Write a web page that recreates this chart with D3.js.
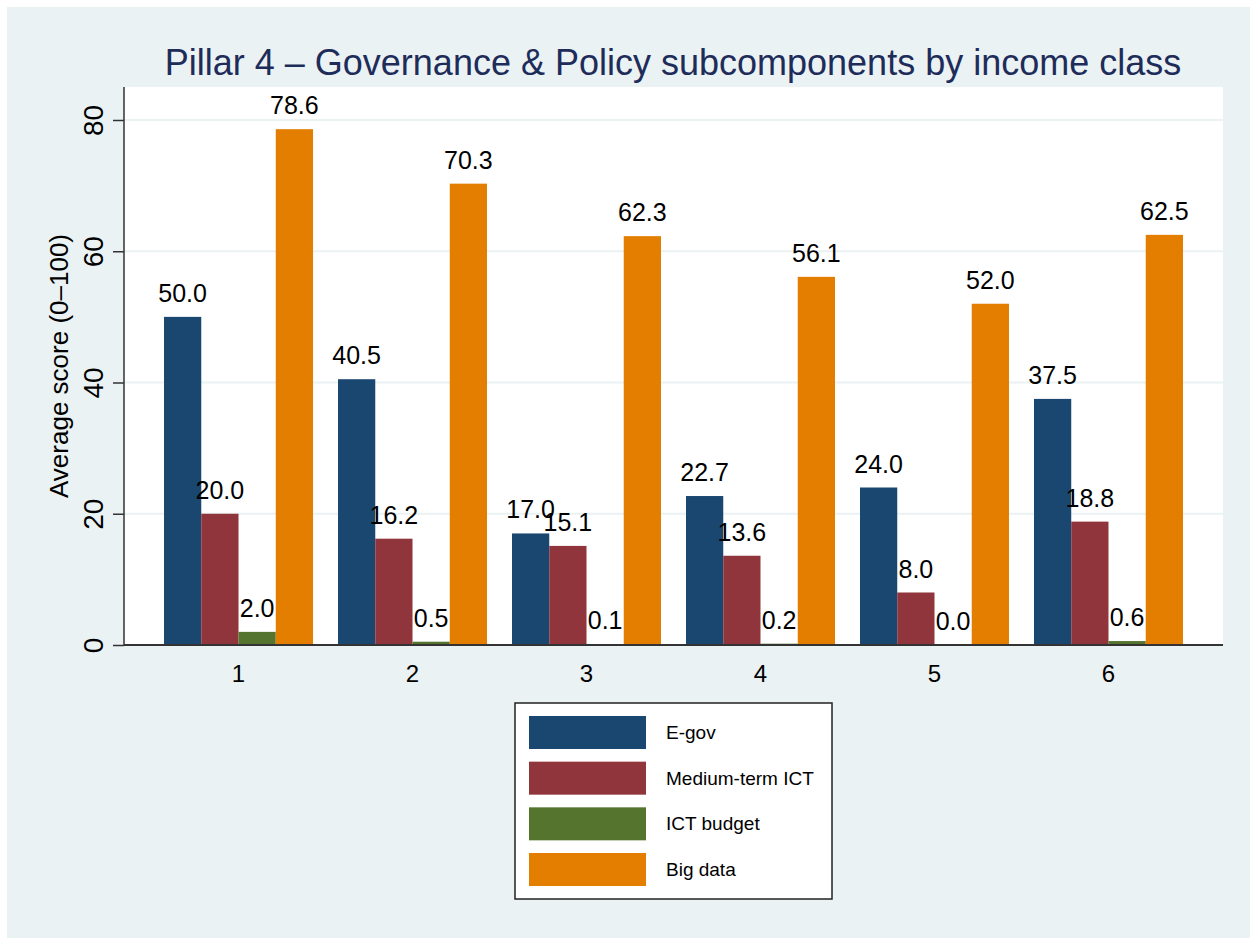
<!DOCTYPE html>
<html>
<head>
<meta charset="utf-8">
<script src="https://cdn.jsdelivr.net/npm/d3@7"></script>
<style>
  html, body { margin: 0; padding: 0; background: #ffffff; }
  svg { display: block; font-family: "Liberation Sans", Arial, sans-serif; }
</style>
</head>
<body>
<svg id="chart" width="1250" height="938"></svg>
<script>
const categories = ["1", "2", "3", "4", "5", "6"];
const seriesNames = ["E-gov", "Medium-term ICT", "ICT budget", "Big data"];
const egov = [50.0, 40.5, 17.0, 22.7, 24.0, 37.5];
const mediumTermICT = [20.0, 16.2, 15.1, 13.6, 8.0, 18.8];
const ictBudget = [2.0, 0.5, 0.1, 0.2, 0.0, 0.6];
const bigData = [78.6, 70.3, 62.3, 56.1, 52.0, 62.5];
const yTicks = [0, 20, 40, 60, 80];
const colors = ["#1a476f", "#90353b", "#55752f", "#e37e00"];

const seriesValues = [egov, mediumTermICT, ictBudget, bigData];

const svg = d3.select("#chart");
const W = 1250, H = 938;

// background
svg.append("rect").attr("x", 7).attr("y", 7).attr("width", W - 7).attr("height", H - 7)
  .attr("fill", "#eaf2f3");

const plot = { left: 124, right: 1223, top: 87, bottom: 645 };

svg.append("rect").attr("x", plot.left).attr("y", plot.top)
  .attr("width", plot.right - plot.left).attr("height", plot.bottom - plot.top)
  .attr("fill", "#ffffff");

const y = d3.scaleLinear().domain([0, 80]).range([plot.bottom, 120]);

const x = d3.scaleBand().domain(categories).range([plot.left, plot.right])
  .paddingInner(0.1437).paddingOuter(0.23);
const xs = d3.scaleBand().domain(seriesNames).range([0, x.bandwidth()]).padding(0);

// gridlines
svg.append("g").selectAll("line").data(yTicks.filter(t => t > 0)).join("line")
  .attr("x1", plot.left).attr("x2", plot.right)
  .attr("y1", d => y(d)).attr("y2", d => y(d))
  .attr("stroke", "#eaf2f3").attr("stroke-width", 2);

// bars
const rows = [];
categories.forEach((c, i) => {
  seriesNames.forEach((s, j) => {
    rows.push({ cat: c, series: s, value: seriesValues[j][i], color: colors[j] });
  });
});

svg.append("g").selectAll("rect").data(rows).join("rect")
  .attr("x", d => x(d.cat) + xs(d.series))
  .attr("y", d => y(d.value))
  .attr("width", xs.bandwidth())
  .attr("height", d => y(0) - y(d.value))
  .attr("fill", d => d.color);

// value labels
svg.append("g").selectAll("text").data(rows).join("text")
  .attr("x", d => x(d.cat) + xs(d.series) + xs.bandwidth() / 2)
  .attr("y", d => y(d.value) - 15)
  .attr("text-anchor", "middle")
  .attr("font-size", 25)
  .attr("fill", "#000")
  .text(d => d.value.toFixed(1));

// y axis
const yAxis = d3.axisLeft(y).tickValues(yTicks).tickSize(11).tickPadding(0).tickFormat(d3.format("d"));
const gy = svg.append("g").attr("transform", `translate(${plot.left},0)`).call(yAxis);
gy.select(".domain").attr("d", `M0,${plot.top}V${plot.bottom}`).attr("stroke", "#333").attr("stroke-width", 1.5);
gy.selectAll(".tick line").attr("stroke", "#333").attr("stroke-width", 1.5);
gy.selectAll(".tick text")
  .attr("font-size", 28)
  .attr("font-family", "Liberation Sans, Arial, sans-serif")
  .attr("fill", "#000")
  .attr("text-anchor", "middle")
  .attr("dy", null)
  .attr("x", null)
  .attr("transform", "translate(-21,0) rotate(-90)")
  .attr("y", 0);

// x axis
const xAxis = d3.axisBottom(x).tickSize(0).tickPadding(0);
const gx = svg.append("g").attr("transform", `translate(0,${plot.bottom})`).call(xAxis);
gx.select(".domain").attr("d", `M${plot.left},0H${plot.right}`).attr("stroke", "#333").attr("stroke-width", 2);
gx.selectAll(".tick text")
  .attr("font-size", 24)
  .attr("font-family", "Liberation Sans, Arial, sans-serif")
  .attr("fill", "#000")
  .attr("dy", null)
  .attr("y", 37);

// y label
svg.append("text")
  .attr("transform", "translate(68,366) rotate(-90)")
  .attr("text-anchor", "middle")
  .attr("font-size", 26)
  .attr("fill", "#000")
  .text("Average score (0–100)");

// title
svg.append("text")
  .attr("x", 673).attr("y", 75)
  .attr("text-anchor", "middle")
  .attr("font-size", 36)
  .attr("fill", "#1e2c5a")
  .text("Pillar 4 – Governance & Policy subcomponents by income class");

// legend
const lg = svg.append("g");
lg.append("rect").attr("x", 515).attr("y", 703).attr("width", 317).attr("height", 196)
  .attr("fill", "#fff").attr("stroke", "#222").attr("stroke-width", 1.5);
const legY = d3.scalePoint().domain(seriesNames).range([716, 853]);
lg.selectAll("rect.sw").data(seriesNames).join("rect").attr("class", "sw")
  .attr("x", 529).attr("y", d => legY(d)).attr("width", 117).attr("height", 33)
  .attr("fill", (d, i) => colors[i]);
lg.selectAll("text").data(seriesNames).join("text")
  .attr("x", 666).attr("y", d => legY(d) + 16.5)
  .attr("dominant-baseline", "central")
  .attr("font-size", 19)
  .attr("fill", "#000")
  .text(d => d);
</script>
</body>
</html>
